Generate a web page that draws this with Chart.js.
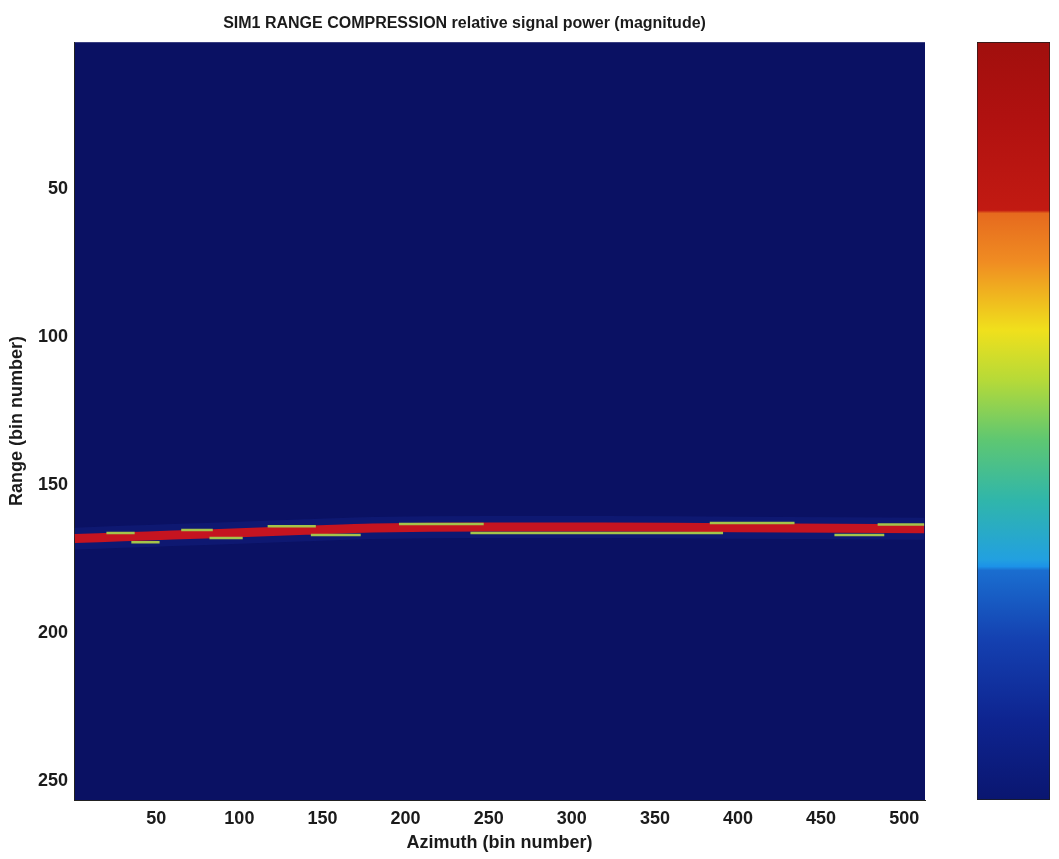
<!DOCTYPE html>
<html>
<head>
<meta charset="utf-8">
<title>SIM1 range compression</title>
<script src="https://cdn.jsdelivr.net/npm/chart.js@4.4.0/dist/chart.umd.min.js"></script>
<style>
  body { margin: 0; background: #fff; }
  #wrap { position: relative; width: 1059px; height: 859px; }
  #main { position: absolute; left: 0; top: 0; }
  #cbar { position: absolute; left: 965px; top: 30px; }
</style>
</head>
<body>
<div id="wrap">
  <canvas id="main" width="1059" height="859"></canvas>
  <canvas id="cbar" width="94" height="782"></canvas>
</div>
<script>
// axis ticks
const xTicks = [50, 100, 150, 200, 250, 300, 350, 400, 450, 500];
const yTicks = [50, 100, 150, 200, 250];

// centre of the compressed target line (azimuth bin -> range bin)
const lineAz    = [1,     30,    60,  100,   140,   180,   250,   320,   400,   460,   512];
const lineRange = [168.2, 167.6, 167, 166.2, 165.4, 164.6, 164.3, 164.3, 164.5, 164.7, 164.9];

// short sidelobe streaks either side of the line
const segStart = [20,  35,  65,  82,  117, 143, 196, 239, 383, 458, 484];
const segEnd   = [37,  52,  84,  102, 146, 173, 247, 391, 434, 488, 512];
const segRange = [166.3, 169.4, 165.3, 168.0, 164.0, 167.0, 163.3, 166.3, 162.9, 167.0, 163.4];

// colorbar limits
const cbLimits = [0, 1];

const pts = lineAz.map((a, i) => ({ x: a, y: lineRange[i] }));
const segPts = [];
segStart.forEach((s, i) => {
  segPts.push({ x: s, y: segRange[i] });
  segPts.push({ x: segEnd[i], y: segRange[i] });
  segPts.push({ x: segEnd[i] + 0.5, y: null });
});

const txt = '#1b1b1b';
const fam = '"Liberation Sans", Arial, sans-serif';

const plotBg = {
  id: 'plotBg',
  beforeDraw(chart) {
    const { ctx, chartArea: a } = chart;
    ctx.save();
    ctx.fillStyle = '#0a1163';
    ctx.fillRect(a.left, a.top, a.right - a.left, a.bottom - a.top);
    ctx.restore();
  }
};

new Chart(document.getElementById('main'), {
  type: 'line',
  data: {
    datasets: [
      { data: segPts, borderColor: '#a4c44a', borderWidth: 2.5, pointRadius: 0, spanGaps: false, order: 0 },
      { data: pts, borderColor: '#c51420', borderWidth: 9, pointRadius: 0, tension: 0.3, order: 1 },
      { data: pts, borderColor: 'rgba(40,70,200,0.14)', borderWidth: 22, pointRadius: 0, tension: 0.3, order: 2 }
    ]
  },
  options: {
    responsive: false,
    animation: false,
    layout: { padding: { top: 5, left: 4, right: 134, bottom: 0 } },
    plugins: {
      legend: { display: false },
      tooltip: { enabled: false },
      title: {
        display: true,
        text: 'SIM1 RANGE COMPRESSION relative signal power (magnitude)',
        color: txt,
        font: { family: fam, size: 16, weight: 'bold' },
        padding: { top: 9, bottom: 9 }
      }
    },
    scales: {
      x: {
        type: 'linear', min: 0.5, max: 512.5,
        afterBuildTicks: s => { s.ticks = xTicks.map(v => ({ value: v })); },
        afterFit: s => { s.height = 59; },
        grid: { display: false, drawTicks: false },
        border: { display: true, color: '#222', width: 1 },
        ticks: { color: txt, padding: 8, font: { family: fam, size: 18, weight: 'bold' } },
        title: { display: true, text: 'Azimuth (bin number)', color: txt,
                 font: { family: fam, size: 18, weight: 'bold' }, padding: { top: 0, bottom: 5 } }
      },
      y: {
        type: 'linear', min: 0.5, max: 256.5, reverse: true,
        afterBuildTicks: s => { s.ticks = yTicks.map(v => ({ value: v })); },
        afterFit: s => { s.width = 70; },
        grid: { display: false, drawTicks: false },
        border: { display: true, color: '#222', width: 1 },
        ticks: { color: txt, padding: 6, font: { family: fam, size: 18, weight: 'bold' } },
        title: { display: true, text: 'Range (bin number)', color: txt,
                 font: { family: fam, size: 18, weight: 'bold' }, padding: { top: 2, bottom: 0 } }
      }
    }
  },
  plugins: [plotBg]
});

// jet-like colormap as printed (top = high)
const cmap = [
  [0.000, '#a10f0d'], [0.100, '#b01110'], [0.222, '#c21a12'],
  [0.226, '#e66a1e'], [0.290, '#f08c22'], [0.380, '#f0e01c'],
  [0.446, '#b6da38'], [0.525, '#5ec772'], [0.604, '#30b6aa'],
  [0.683, '#22a0e0'], [0.692, '#1c92e8'], [0.697, '#1a6ed0'],
  [0.790, '#1440b0'], [0.895, '#0e2490'], [1.000, '#0a1670']
];

new Chart(document.getElementById('cbar'), {
  type: 'bar',
  data: {
    labels: [''],
    datasets: [{
      data: [cbLimits],
      borderColor: '#1c1c1c',
      borderWidth: 1,
      borderSkipped: false,
      barPercentage: 1,
      categoryPercentage: 1,
      backgroundColor: c => {
        const a = c.chart.chartArea;
        if (!a) return '#888';
        const g = c.chart.ctx.createLinearGradient(0, a.top, 0, a.bottom);
        cmap.forEach(([t, col]) => g.addColorStop(t, col));
        return g;
      }
    }]
  },
  options: {
    responsive: false,
    animation: false,
    layout: { padding: { top: 12, bottom: 12, left: 12, right: 9 } },
    plugins: { legend: { display: false }, tooltip: { enabled: false } },
    scales: {
      x: { display: false },
      y: { display: false, min: cbLimits[0], max: cbLimits[1] }
    }
  }
});
</script>
</body>
</html>
